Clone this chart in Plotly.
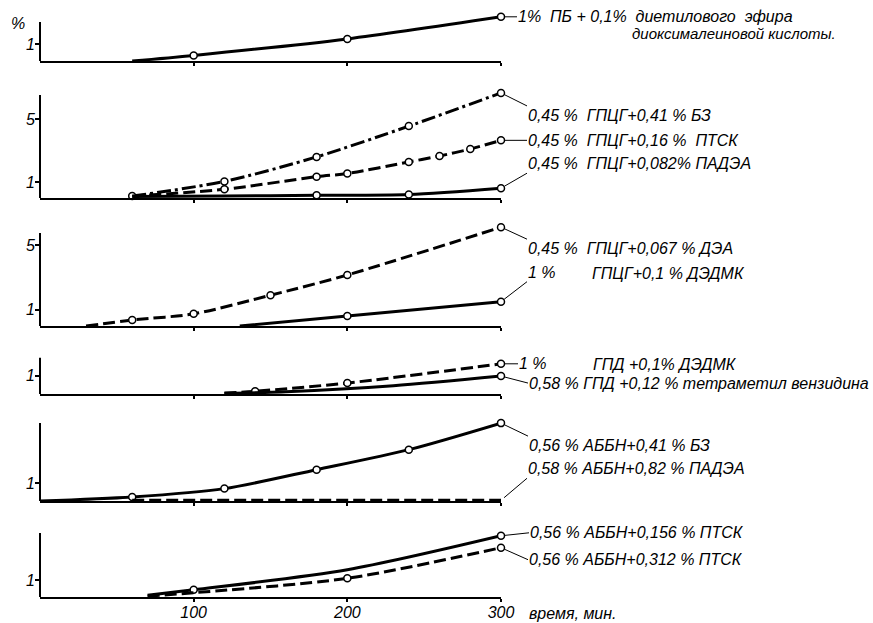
import plotly.graph_objects as go

# ---------------------------------------------------------------- data
# time, min / conversion, %
pb_x = [60, 100, 200, 300]
pb_y = [0.0, 0.33, 1.3, 2.6]
pb_marks = [100, 200, 300]

gpcg_bz_x = [60, 120, 180, 240, 300]
gpcg_bz_y = [0.12, 1.05, 2.6, 4.55, 6.65]
gpcg_bz_marks = [60, 120, 180, 240, 300]

gpcg_ptsk_x = [60, 120, 180, 200, 240, 260, 280, 300]
gpcg_ptsk_y = [0.12, 0.55, 1.35, 1.55, 2.28, 2.66, 3.1, 3.65]
gpcg_ptsk_marks = [120, 180, 200, 240, 260, 280, 300]

gpcg_padea_x = [60, 120, 180, 240, 300]
gpcg_padea_y = [0.1, 0.12, 0.17, 0.22, 0.62]
gpcg_padea_marks = [180, 240, 300]

gpcg_dea_x = [30, 60, 100, 150, 200, 300]
gpcg_dea_y = [0.0, 0.37, 0.75, 1.9, 3.15, 6.1]
gpcg_dea_marks = [60, 100, 150, 200, 300]

gpcg_dedmk_x = [130, 200, 300]
gpcg_dedmk_y = [0.0, 0.62, 1.5]
gpcg_dedmk_marks = [200, 300]

gpd_dedmk_x = [120, 140, 200, 300]
gpd_dedmk_y = [0.05, 0.15, 0.6, 1.65]
gpd_dedmk_marks = [140, 200, 300]

gpd_tmb_x = [120, 160, 230, 300]
gpd_tmb_y = [0.03, 0.12, 0.45, 0.98]
gpd_tmb_marks = [300]

abbn_bz_x = [0, 60, 120, 180, 240, 300]
abbn_bz_y = [0.0, 0.23, 0.7, 1.77, 2.9, 4.4]
abbn_bz_marks = [60, 120, 180, 240, 300]

abbn_padea_x = [60, 300]
abbn_padea_y = [0.04, 0.04]
abbn_padea_marks = []

abbn_ptsk156_x = [70, 100, 200, 300]
abbn_ptsk156_y = [0.1, 0.42, 1.6, 3.6]
abbn_ptsk156_marks = [100, 300]

abbn_ptsk312_x = [70, 100, 200, 300]
abbn_ptsk312_y = [0.05, 0.25, 1.1, 2.9]
abbn_ptsk312_marks = [200, 300]

x_ticks = [100, 200, 300]
x_ticktext = ["100", "200", "300"]

# ---------------------------------------------------------------- layout geometry
W, H = 873, 623
ML, MR, MT, MB = 40, 372, 10, 26
PW = W - ML - MR
PH = H - MT - MB


def paper_x(px):
    return (px - ML) / PW


def paper_y(py):
    return (H - MB - py) / PH


# baseline (px), pixels per unit, top of drawn axis, top of data range, y ticks
panels = [
    dict(base=61, ppu=17.0, axis_top=2.29, range_top=3.0, ticks=[1]),
    dict(base=198, ppu=15.8, axis_top=6.52, range_top=7.0, ticks=[1, 5]),
    dict(base=326, ppu=16.2, axis_top=5.74, range_top=6.5, ticks=[1, 5]),
    dict(base=394, ppu=18.3, axis_top=2.0, range_top=2.0, ticks=[1]),
    dict(base=501, ppu=17.7, axis_top=4.4, range_top=4.7, ticks=[1]),
    dict(base=597, ppu=17.0, axis_top=3.76, range_top=3.9, ticks=[1]),
]

FONT = dict(family="Liberation Sans", size=16, color="black", style="italic")
FONT_SMALL = dict(FONT, size=15)
DASH = "12px,5px"
DASHDOT = "14px,4px,3px,4px"

series = [
    # panel, x, y, marked x, dash, label, tail dx, tail dy, yanchor
    (1, pb_x, pb_y, pb_marks, "solid", "1%  ПБ + 0,1%  диетилового  эфира", 16, 0, "middle"),
    (2, gpcg_bz_x, gpcg_bz_y, gpcg_bz_marks, DASHDOT, "0,45 %  ГПЦГ+0,41 % БЗ", 26, 13, "top"),
    (2, gpcg_ptsk_x, gpcg_ptsk_y, gpcg_ptsk_marks, DASH, "0,45 %  ГПЦГ+0,16 %  ПТСК", 26, 0, "middle"),
    (2, gpcg_padea_x, gpcg_padea_y, gpcg_padea_marks, "solid", "0,45 %  ГПЦГ+0,082% ПАДЭА", 26, -15, "bottom"),
    (3, gpcg_dea_x, gpcg_dea_y, gpcg_dea_marks, DASH, "0,45 %  ГПЦГ+0,067 % ДЭА", 26, 12, "top"),
    (3, gpcg_dedmk_x, gpcg_dedmk_y, gpcg_dedmk_marks, "solid", "1 %", 26, -20, "bottom"),
    (4, gpd_dedmk_x, gpd_dedmk_y, gpd_dedmk_marks, DASH, "1 %", 17, 0, "middle"),
    (4, gpd_tmb_x, gpd_tmb_y, gpd_tmb_marks, "solid", "0,58 % ГПД +0,12 % тетраметил вензидина", 27, 7, "middle"),
    (5, abbn_bz_x, abbn_bz_y, abbn_bz_marks, "solid", "0,56 % АББН+0,41 % БЗ", 27, 13, "top"),
    (5, abbn_padea_x, abbn_padea_y, abbn_padea_marks, DASH, "0,58 % АББН+0,82 % ПАДЭА", 26, -22, "bottom"),
    (6, abbn_ptsk156_x, abbn_ptsk156_y, abbn_ptsk156_marks, "solid", "0,56 % АББН+0,156 % ПТСК", 28, -3, "middle"),
    (6, abbn_ptsk312_x, abbn_ptsk312_y, abbn_ptsk312_marks, DASH, "0,56 % АББН+0,312 % ПТСК", 27, 12, "middle"),
]


def ax_name(i, letter):
    return letter if i == 1 else f"{letter}{i}"


fig = go.Figure()
annotations = []
shapes = []

for panel, xs, ys, marks, dash, label, dx, dy, yanch in series:
    xa, ya = ax_name(panel, "x"), ax_name(panel, "y")
    fig.add_trace(go.Scatter(
        x=xs, y=ys, mode="lines", xaxis=xa, yaxis=ya,
        line=dict(color="black", width=3, dash=dash, shape="spline", smoothing=0.8),
        hoverinfo="skip",
    ))
    mx = [x for x in xs if x in marks]
    my = [y for x, y in zip(xs, ys) if x in marks]
    if mx:
        fig.add_trace(go.Scatter(
            x=mx, y=my, mode="markers", xaxis=xa, yaxis=ya, cliponaxis=False,
            marker=dict(symbol="circle", size=7, color="white",
                        line=dict(color="black", width=1.5)),
            hoverinfo="skip",
        ))
    annotations.append(dict(
        xref=xa, yref=ya, x=xs[-1], y=ys[-1], text=label, font=FONT,
        showarrow=True, arrowhead=0, arrowwidth=1, arrowcolor="black",
        axref="pixel", ayref="pixel", ax=dx, ay=dy, standoff=4,
        xanchor="left", yanchor=yanch, borderpad=0,
    ))

layout = dict(
    width=W, height=H,
    margin=dict(l=ML, r=MR, t=MT, b=MB, autoexpand=False),
    paper_bgcolor="white", plot_bgcolor="white",
    showlegend=False,
)

for i, p in enumerate(panels, start=1):
    d0 = paper_y(p["base"])
    d1 = paper_y(p["base"] - p["range_top"] * p["ppu"])
    xk = "xaxis" if i == 1 else f"xaxis{i}"
    yk = "yaxis" if i == 1 else f"yaxis{i}"
    layout[xk] = dict(
        domain=[0, 1], anchor=ax_name(i, "y"), range=[0, 300], automargin=False,
        showline=True, linecolor="black", linewidth=2, showgrid=False, zeroline=False,
        ticks="outside", ticklen=3, tickwidth=1.5, tickcolor="black",
        tickvals=x_ticks, ticktext=x_ticktext,
        showticklabels=(i == len(panels)), tickfont=FONT, ticklabelstandoff=-3,
    )
    if i > 1:
        layout[xk]["matches"] = "x"
    layout[yk] = dict(
        domain=[d0, d1], anchor=ax_name(i, "x"), range=[0, p["range_top"]],
        automargin=False,
        showline=False, showgrid=False, zeroline=False,
        ticks="outside", ticklen=4, tickwidth=1.5, tickcolor="black",
        tickvals=p["ticks"], ticktext=[str(t) for t in p["ticks"]],
        tickfont=FONT, ticklabelstandoff=-3,
    )
    # vertical axis line up to its drawn height
    shapes.append(dict(
        type="line", xref=f"{ax_name(i, 'x')} domain", x0=0, x1=0,
        yref=ax_name(i, "y"), y0=0, y1=p["axis_top"],
        line=dict(color="black", width=2),
    ))

# free text
free_text = [
    ("%", 9, 23, FONT),
    ("диоксималеиновой кислоты.", 630, 33, FONT_SMALL),
    ("ГПЦГ+0,1 % ДЭДМК", 590, 273, FONT),
    ("ГПД +0,1% ДЭДМК", 591, 364, FONT),
    ("время, мин.", 527, 613, FONT),
]
for txt, px, py, fnt in free_text:
    annotations.append(dict(
        xref="paper", yref="paper", x=paper_x(px), y=paper_y(py), text=txt,
        font=fnt, showarrow=False, xanchor="left", yanchor="middle",
    ))

layout["annotations"] = annotations
layout["shapes"] = shapes
fig.update_layout(**layout)
fig.write_html("out.html")
